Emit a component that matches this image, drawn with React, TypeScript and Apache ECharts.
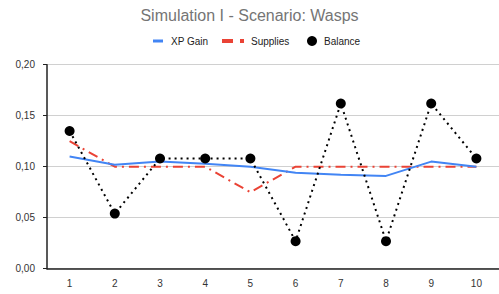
import React, { useEffect, useRef } from "react";
import * as echarts from "echarts";

const categories = ["1", "2", "3", "4", "5", "6", "7", "8", "9", "10"];
const xpGain = [0.11, 0.102, 0.105, 0.103, 0.1, 0.094, 0.092, 0.091, 0.105, 0.1];
const supplies = [0.125, 0.1, 0.1, 0.1, 0.075, 0.1, 0.1, 0.1, 0.1, 0.1];
const balance = [0.135, 0.054, 0.108, 0.108, 0.108, 0.027, 0.162, 0.027, 0.162, 0.108];
const yTicks = { min: 0, max: 0.2, interval: 0.05 };

export default function App() {
  const ref = useRef<HTMLDivElement>(null);
  useEffect(() => {
    document.body.style.margin = "0";
    const chart = echarts.init(ref.current!, null, { renderer: "svg" });
    const font = "Liberation Sans, Arial, sans-serif";
    chart.setOption({
      animation: false,
      textStyle: { fontFamily: font },
      title: {
        text: "Simulation I - Scenario: Wasps",
        left: "center",
        top: 2,
        textStyle: { fontSize: 16, fontWeight: "normal", color: "#757575", fontFamily: font },
      },
      legend: [
        {
          data: [{ name: "XP Gain", icon: "rect" }],
          left: 148,
          top: 31,
          itemWidth: 10,
          itemHeight: 3,
          textStyle: { fontSize: 10, color: "#222", fontFamily: font, padding: [0, 0, 0, 3] },
        },
        {
          data: [{ name: "Supplies", icon: "path://M0,0h11v4h-11z M18,0h4v4h-4z" }],
          left: 217,
          top: 31,
          itemWidth: 22,
          itemHeight: 4,
          textStyle: { fontSize: 10, color: "#222", fontFamily: font, padding: [0, 0, 0, 2] },
        },
        {
          data: [{ name: "Balance", icon: "circle" }],
          left: 302,
          top: 31,
          itemWidth: 10,
          itemHeight: 10,
          textStyle: { fontSize: 10, color: "#222", fontFamily: font, padding: [0, 0, 0, 2] },
        },
      ],
      grid: { left: 47, right: 0, top: 64.7, bottom: 25.3 },
      xAxis: [
        {
          type: "category",
          data: categories,
          boundaryGap: true,
          axisLine: { lineStyle: { color: "#222", width: 1.5 } },
          axisTick: { alignWithLabel: true, length: 4, lineStyle: { color: "#222" } },
          axisLabel: { fontSize: 10, color: "#333", margin: 10, fontFamily: font },
        },
        {
          type: "category",
          data: categories,
          position: "bottom",
          boundaryGap: true,
          axisLine: { show: false },
          axisTick: { alignWithLabel: true, inside: true, length: 4, lineStyle: { color: "#222" } },
          axisLabel: { show: false },
        },
      ],
      yAxis: {
        type: "value",
        min: yTicks.min,
        max: yTicks.max,
        interval: yTicks.interval,
        axisLine: { show: true, lineStyle: { color: "#222", width: 1.5 } },
        axisTick: { show: true, length: 4, lineStyle: { color: "#222" } },
        axisLabel: {
          fontSize: 10,
          color: "#333",
          margin: 12,
          fontFamily: font,
          formatter: (v: number) => v.toFixed(2).replace(".", ","),
        },
        splitLine: { lineStyle: { color: "#d0d0d0", width: 1 } },
      },
      series: [
        {
          name: "XP Gain",
          type: "line",
          data: xpGain,
          symbol: "none",
          color: "#4285F4",
          lineStyle: { color: "#4285F4", width: 2 },
          z: 3,
        },
        {
          name: "Supplies",
          type: "line",
          data: supplies,
          symbol: "none",
          color: "#EA4335",
          lineStyle: { color: "#EA4335", width: 2, type: [10, 5, 2, 5] },
          z: 2,
        },
        {
          name: "Balance",
          type: "line",
          data: balance,
          symbol: "circle",
          symbolSize: 10,
          color: "#000",
          itemStyle: { color: "#000" },
          lineStyle: { color: "#000", width: 2, type: [2, 4] },
          z: 4,
        },
      ],
    });
    return () => chart.dispose();
  }, []);
  return <div ref={ref} style={{ width: 499, height: 294 }} />;
}
